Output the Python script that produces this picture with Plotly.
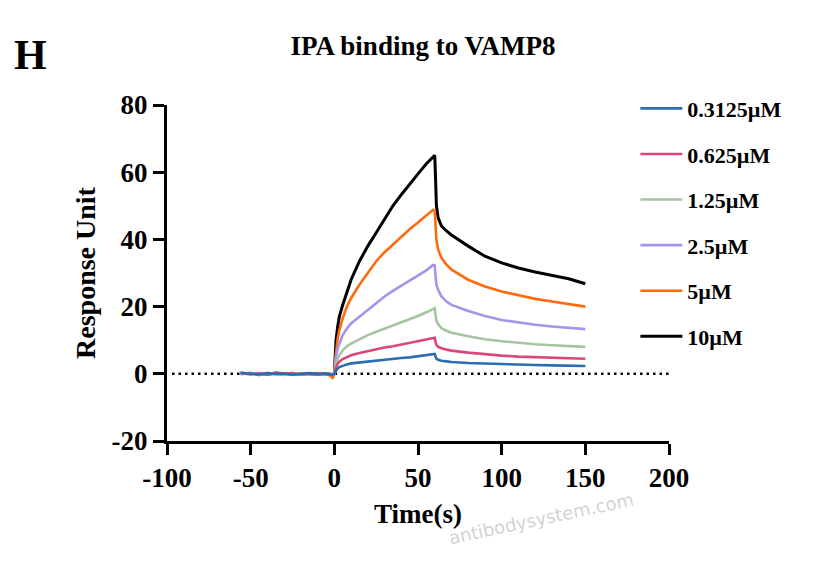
import plotly.graph_objects as go

# ---------------- data ----------------
labels = ["0.3125µM", "0.625µM", "1.25µM", "2.5µM", "5µM", "10µM"]
colors = ["#2a6db0", "#d9477c", "#a6c4a2", "#a694ea", "#ff6a0d", "#000000"]

t_base = [-56, -50, -45, -40, -35, -30, -25, -20, -15, -10, -5, -2, -1]
t_run = [0, 0.5, 1, 2, 3, 5, 7.5, 10, 15, 20, 25, 30, 35, 40, 45, 50, 55, 59, 60,
         60.5, 61, 62, 64, 67, 70, 80, 90, 100, 110, 120, 130, 140, 150]

base_0p3125 = [0.3, 0.1, -0.2, 0.2, -0.1, 0.1, -0.2, 0.0, 0.2, -0.1, 0.1, -0.3, -0.2]
base_0p625 = [0.2, -0.1, 0.1, -0.2, 0.2, 0.0, 0.1, -0.2, 0.0, 0.1, -0.1, -0.2, -0.3]
base_1p25 = [0.1, 0.2, -0.1, 0.0, 0.1, -0.2, 0.0, 0.2, -0.1, 0.0, 0.1, -0.1, -0.2]
base_2p5 = [0.0, 0.1, 0.2, -0.1, 0.0, 0.1, -0.1, 0.0, 0.1, -0.2, 0.0, -0.2, -0.3]
base_5 = [-0.1, 0.3, -0.4, 0.2, 0.0, -0.3, 0.3, -0.2, 0.1, 0.2, -0.2, -0.6, -1.4]
base_10 = [0.2, 0.0, 0.1, -0.1, 0.2, 0.0, -0.1, 0.1, 0.0, -0.1, 0.1, -0.2, -0.4]

run_0p3125 = [0, 0.6, 1.0, 1.6, 2.0, 2.4, 2.8, 3.1, 3.4, 3.7, 4.0, 4.2, 4.5, 4.7, 4.9, 5.2, 5.5, 5.8, 5.9,
              5.1, 4.5, 4.2, 3.9, 3.7, 3.5, 3.2, 3.0, 2.8, 2.7, 2.6, 2.5, 2.4, 2.3]
run_0p625 = [0, 1.2, 2.0, 3.0, 3.6, 4.4, 5.0, 5.5, 6.2, 6.8, 7.3, 7.8, 8.2, 8.7, 9.2, 9.7, 10.2, 10.6, 10.7,
             9.5, 8.6, 8.1, 7.6, 7.2, 6.9, 6.3, 5.8, 5.4, 5.1, 4.9, 4.7, 4.6, 4.5]
run_1p25 = [0, 2.0, 3.0, 4.5, 5.5, 7.0, 8.2, 9.0, 10.3, 11.5, 12.5, 13.4, 14.3, 15.2, 16.2, 17.2, 18.3, 19.3, 19.5,
            17.5, 15.8, 14.8, 13.6, 12.8, 12.2, 11.2, 10.3, 9.7, 9.2, 8.8, 8.5, 8.2, 8.0]
run_2p5 = [0, 3.0, 5.0, 7.5, 9.0, 11.5, 13.5, 15.0, 17.0, 19.0, 21.0, 23.0, 24.7, 26.2, 27.7, 29.2, 30.8, 32.4, 32.3,
           29.0, 26.5, 25.0, 23.0, 21.5, 20.5, 18.7, 17.2, 16.0, 15.2, 14.6, 14.1, 13.7, 13.3]
run_5 = [0, 4.0, 7.0, 10.5, 13.0, 16.5, 20.0, 22.5, 26.5, 30.0, 33.5, 36.2, 38.5, 41.0, 43.0, 45.0, 47.0, 48.8, 48.5,
         44.0, 40.0, 37.0, 34.5, 32.5, 31.0, 28.0, 26.0, 24.5, 23.3, 22.3, 21.5, 20.8, 20.0]
run_10 = [0, 6.0, 10.0, 14.0, 17.0, 20.5, 24.5, 28.0, 33.5, 38.0, 42.0, 46.0, 50.0, 53.3, 56.5, 59.5, 62.5, 64.7, 65.0,
          58.0, 50.0, 46.5, 44.0, 42.5, 41.3, 38.0, 35.0, 33.0, 31.5, 30.3, 29.3, 28.3, 26.8]

bases = [base_0p3125, base_0p625, base_1p25, base_2p5, base_5, base_10]
runs = [run_0p3125, run_0p625, run_1p25, run_2p5, run_5, run_10]

x_ticks = [-100, -50, 0, 50, 100, 150, 200]
y_ticks = [-20, 0, 20, 40, 60, 80]

FONT = "Liberation Serif"

fig = go.Figure()
# draw highest concentration first so the lowest sits on top at the baseline
for i in reversed(range(len(labels))):
    fig.add_trace(go.Scatter(
        x=t_base + t_run, y=bases[i] + runs[i], mode="lines", name=labels[i],
        line=dict(color=colors[i], width=2.6 if i < 5 else 3),
        legendgroup=labels[i], legendrank=i + 1,
    ))

fig.add_shape(type="line", xref="x", yref="y", x0=-97, x1=200, y0=0, y1=0,
              line=dict(color="black", width=2.6, dash="2.5px,4px"), layer="below")

axis_common = dict(
    showline=True, linecolor="black", linewidth=3, mirror=False,
    ticks="outside", ticklen=11, tickwidth=3, tickcolor="black",
    showgrid=False, zeroline=False,
    tickfont=dict(family=FONT, size=27, color="black", weight="bold"),
)

fig.update_layout(
    width=821, height=571, autosize=False,
    margin=dict(l=167, r=152, t=105, b=130, autoexpand=False),
    plot_bgcolor="white", paper_bgcolor="white",
    title=dict(text="IPA binding to VAMP8", x=0.51, xref="paper", xanchor="center",
               y=0.921, yref="container", yanchor="middle",
               font=dict(family=FONT, size=27, color="black", weight="bold")),
    xaxis=dict(range=[-100, 200], tickvals=x_ticks, ticktext=[str(v) for v in x_ticks],
               title=dict(text="Time(s)", standoff=12,
                          font=dict(family=FONT, size=27, color="black", weight="bold")),
               **axis_common),
    yaxis=dict(range=[-20, 80], tickvals=y_ticks, ticktext=[str(v) for v in y_ticks],
               title=dict(text="Response Unit", standoff=8,
                          font=dict(family=FONT, size=28, color="black", weight="bold")),
               **axis_common),
    legend=dict(x=0.933, xanchor="left", y=1.052, yanchor="top",
                font=dict(family=FONT, size=22, color="black", weight="bold"),
                tracegroupgap=14, bgcolor="rgba(0,0,0,0)", itemwidth=42),
    showlegend=True,
)

fig.add_annotation(text="H", xref="paper", yref="paper", x=-0.271, y=1.149,
                   xanchor="center", yanchor="middle", showarrow=False,
                   font=dict(family=FONT, size=42, color="black", weight="bold"))
fig.add_annotation(text="antibodysystem.com", xref="paper", yref="paper", x=0.745, y=-0.23,
                   xanchor="center", yanchor="middle", showarrow=False, textangle=-12,
                   font=dict(family="DejaVu Sans", size=18, color="rgba(180,180,180,0.6)"))

fig.write_html("out.html")
